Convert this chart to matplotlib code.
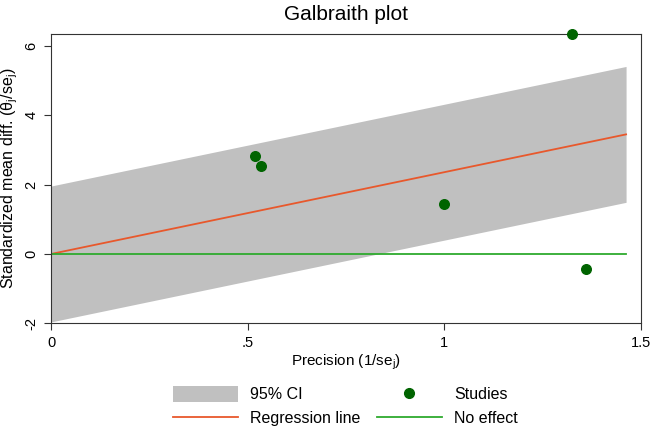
import numpy as np
import matplotlib
matplotlib.use("Agg")
import matplotlib.pyplot as plt
from matplotlib.patches import Patch
from matplotlib.lines import Line2D

plt.rcParams["font.family"] = ["Liberation Sans", "DejaVu Sans"]

# study data
precision = [0.518, 0.535, 0.998, 1.325, 1.360]
std_effect = [2.84, 2.53, 1.44, 6.35, -0.42]

# fitted line through origin and 95% band
slope = 2.36
x_end = 1.462
ci_half = 1.96

x_ticks = [0, 0.5, 1, 1.5]
x_tick_labels = ["0", ".5", "1", "1.5"]
y_ticks = [-2, 0, 2, 4, 6]

CI_COLOR = "#c0c0c0"
REG_COLOR = "#e8582c"
NOEFF_COLOR = "#2eaa2e"
STUDY_COLOR = "#006400"

fig = plt.figure(figsize=(6.5, 4.32), dpi=100)
ax = fig.add_axes([0.0785, 0.2516, 0.9077, 0.670])

xs = np.array([0, x_end])
ax.fill_between(xs, slope * xs - ci_half, slope * xs + ci_half,
                color=CI_COLOR, lw=0, zorder=1)
ax.plot(xs, slope * xs, color=REG_COLOR, lw=1.3, zorder=2)
ax.plot(xs, [0, 0], color=NOEFF_COLOR, lw=1.3, zorder=2)
ax.scatter(precision, std_effect, s=48, color=STUDY_COLOR, zorder=3,
           clip_on=False)

ax.set_xlim(0, 1.5)
ax.set_ylim(-1.96, 6.35)
ax.set_xticks(x_ticks)
ax.set_xticklabels(x_tick_labels)
ax.set_yticks(y_ticks)
ax.set_yticklabels([str(v) for v in y_ticks], rotation=90, va="center")
ax.tick_params(labelsize=10.5, direction="out", length=5, pad=4, color="#333333")
for s in ax.spines.values():
    s.set_color("#333333")

ax.set_xlabel(r"Precision (1/se$_\mathregular{j}$)", fontsize=11, labelpad=2)
ax.set_ylabel(r"Standardized mean diff. ($\mathregular{\theta_j}$/se$_\mathregular{j}$)",
              fontsize=11.5, labelpad=3)
ax.set_title("Galbraith plot", fontsize=15, pad=10)

handles = [
    Patch(facecolor=CI_COLOR, edgecolor="none", label="95% CI"),
    Line2D([], [], color=REG_COLOR, lw=1.3, label="Regression line"),
    Line2D([], [], ls="none", marker="o", ms=7, color=STUDY_COLOR, label="Studies"),
    Line2D([], [], color=NOEFF_COLOR, lw=1.3, label="No effect"),
]
fig.legend(handles=handles, ncol=2, frameon=False, fontsize=11.5,
           loc="upper left", bbox_to_anchor=(0.266, 0.106),
           borderaxespad=0, borderpad=0,
           handlelength=4.1, handleheight=1.1, columnspacing=1.0,
           handletextpad=0.75, labelspacing=0.5)

fig.savefig("out.png", dpi=100)
